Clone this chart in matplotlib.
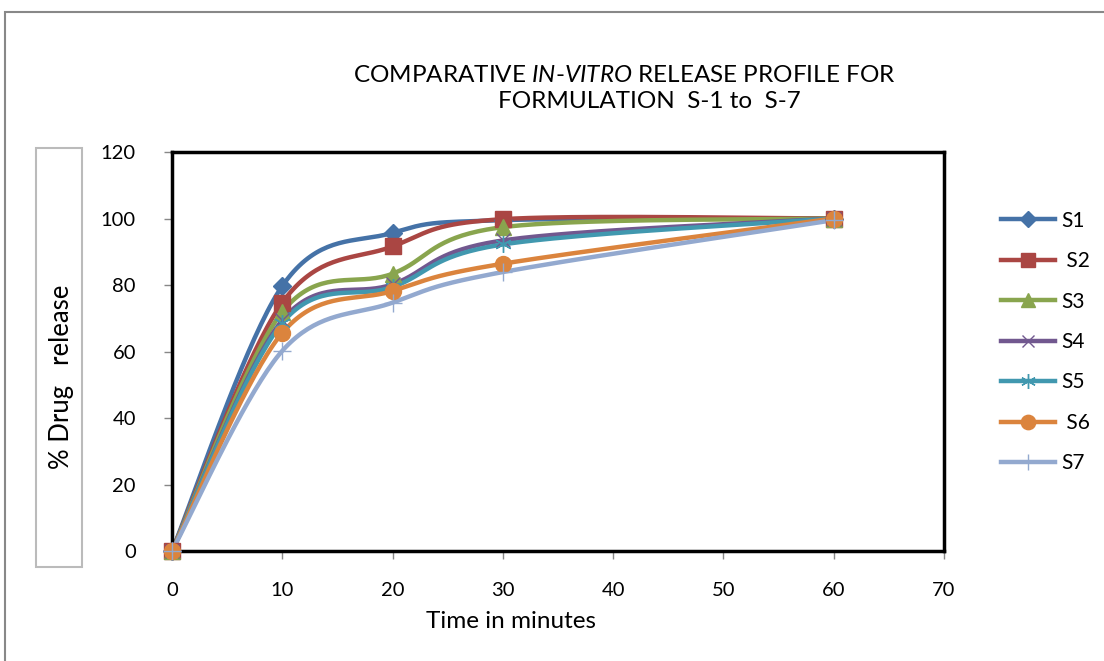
import numpy as np
import matplotlib
matplotlib.use("Agg")
import matplotlib.pyplot as plt
from matplotlib.patches import Rectangle
from matplotlib.lines import Line2D

plt.rcParams['font.family'] = ['Lato', 'DejaVu Sans']
plt.rcParams['mathtext.fontset'] = 'custom'
plt.rcParams['mathtext.it'] = 'Lato:italic'
plt.rcParams['mathtext.rm'] = 'Lato'

time = [0, 10, 20, 30, 60]
series_names = ["S1", "S2", "S3", "S4", "S5", "S6", "S7"]
s1 = [0, 79.7, 95.7, 99.5, 100]
s2 = [0, 74.7, 91.6, 99.8, 100]
s3 = [0, 71.9, 83.4, 97.4, 100]
s4 = [0, 69.4, 80.2, 93.4, 100]
s5 = [0, 68.6, 79.4, 92.2, 100]
s6 = [0, 65.6, 78.2, 86.4, 100]
s7 = [0, 60.2, 74.7, 83.9, 99.5]
values = [s1, s2, s3, s4, s5, s6, s7]
legend_labels = ["S1", " S2", "S3", "S4", "S5", " S6", "S7"]

colors = ["#4572A7", "#AA4643", "#89A54E", "#71588F", "#4198AF", "#DB843D", "#93A9CF"]
markers = ["D", "s", "^", "x", (6, 2, 0), "o", "+"]
msizes = [9, 11, 11, 10, 12, 11.5, 13]


def smooth(x, y, n=40):
    x = np.asarray(x, float)
    y = np.asarray(y, float)
    P = np.column_stack([x, y])
    out = [P[0]]
    for i in range(len(P) - 1):
        p0 = P[i - 1] if i > 0 else P[i]
        p1 = P[i]
        p2 = P[i + 1]
        p3 = P[i + 2] if i + 2 < len(P) else P[i + 1]
        c1 = p1 + (p2 - p0) / 6.0
        c2 = p2 - (p3 - p1) / 6.0
        t = np.linspace(0, 1, n)[1:, None]
        b = ((1 - t) ** 3) * p1 + 3 * ((1 - t) ** 2) * t * c1 + 3 * (1 - t) * t ** 2 * c2 + t ** 3 * p2
        out.extend(b)
    out = np.array(out)
    return out[:, 0], out[:, 1]


W, H = 1104, 661
fig = plt.figure(figsize=(W / 100, H / 100), dpi=100)

# outer frame
fig.add_artist(Rectangle((5 / W, -0.1), 1.2, (H - 12) / H + 0.1, transform=fig.transFigure,
                         fill=False, edgecolor="#888888", linewidth=1.5))
# y-label box
fig.add_artist(Rectangle((36 / W, (H - 567) / H), 46 / W, (567 - 148) / H, transform=fig.transFigure,
                         fill=False, edgecolor="#BBBBBB", linewidth=1.5))

ax = fig.add_axes([172 / W, (H - 551) / H, (944 - 172) / W, (551 - 152) / H])
for i in range(len(values)):
    xs, ys = smooth(time, values[i])
    ax.plot(xs, ys, color=colors[i], linewidth=3.2, solid_capstyle='round', zorder=2 + i * 0.1)
    mew = 1.0 if markers[i] in ("x", "+") or isinstance(markers[i], tuple) else 1
    ax.plot(time, values[i], linestyle='none', marker=markers[i], markersize=msizes[i],
            color=colors[i], markeredgecolor=colors[i], markeredgewidth=mew,
            zorder=3 + i * 0.1, clip_on=False)

ax.set_xlim(0, 70)
ax.set_ylim(0, 120)
ax.set_xticks(range(0, 71, 10))
ax.set_yticks(range(0, 121, 20))
for sp in ax.spines.values():
    sp.set_linewidth(2.5)
    sp.set_color("black")
ax.tick_params(axis='both', direction='out', length=6, width=1, color="#888888",
               labelsize=14.5, pad=16)
ax.tick_params(axis='y', pad=20)

fig.text(624 / W, (H - 75) / H, "COMPARATIVE $\\mathit{IN}$-$\\mathit{VITRO}$ RELEASE PROFILE FOR",
         ha='center', va='center', fontsize=17.5)
fig.text(649 / W, (H - 102) / H, "FORMULATION  S-1 to  S-7", ha='center', va='center', fontsize=17.5)
fig.text(511 / W, (H - 621) / H, "Time in minutes", ha='center', va='center', fontsize=17.5)
fig.text(62 / W, (H - 377) / H, "% Drug   release", ha='center', va='center', fontsize=18.5,
         rotation=90)

# legend
handles = []
for i in range(len(values)):
    mew = 1.0 if markers[i] in ("x", "+") or isinstance(markers[i], tuple) else 1
    handles.append(Line2D([], [], color=colors[i], linewidth=3.2, marker=markers[i],
                          markersize=msizes[i] * 0.9, markeredgewidth=mew))
leg = fig.legend(handles, legend_labels, loc='upper left', bbox_to_anchor=(982 / W, (H - 192) / H),
                 frameon=False, fontsize=15, handlelength=2.6, labelspacing=0.98,
                 handletextpad=0.3)

fig.savefig("out.png", dpi=100)
